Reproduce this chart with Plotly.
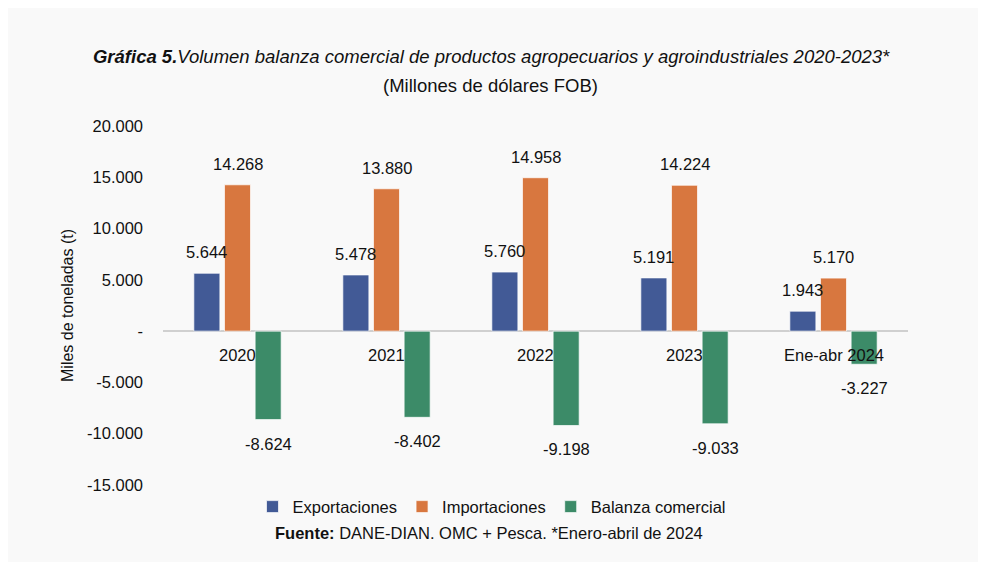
import plotly.graph_objects as go

categories = ["2020", "2021", "2022", "2023", "Ene-abr 2024"]
exportaciones = [5644, 5478, 5760, 5191, 1943]
importaciones = [14268, 13880, 14958, 14224, 5170]
balanza = [-8624, -8402, -9198, -9033, -3227]
series_names = ["Exportaciones", "Importaciones", "Balanza comercial"]
colors = ["#425a96", "#d8773f", "#3c8b68"]
ytick_vals = [20000, 15000, 10000, 5000, 0, -5000, -10000, -15000]
ytick_text = ["20.000", "15.000", "10.000", "5.000", "-", "-5.000", "-10.000", "-15.000"]

def fmt(v):
    return f"{v:,}".replace(",", ".")

FONT = "Liberation Sans, Arial, sans-serif"
NARROW = "Liberation Sans Narrow, Arial Narrow, Liberation Sans, sans-serif"

fig = go.Figure()
all_series = [exportaciones, importaciones, balanza]
for name, vals, col in zip(series_names, all_series, colors):
    fig.add_trace(go.Bar(
        x=categories, y=vals, name=name,
        marker=dict(color=col, line=dict(color="rgba(255,255,255,0.7)", width=1)),
    ))

slot = 30.7
annotations = []
for i, vals in enumerate(all_series):
    for ci, v in enumerate(vals):
        annotations.append(dict(
            x=ci, y=v, xref="x", yref="y", text=fmt(v), showarrow=False,
            xshift=(i - 1) * slot,
            yanchor="bottom" if v >= 0 else "top",
            yshift=10 if v >= 0 else -13,
            font=dict(family=FONT, size=16.5, color="#111111"),
        ))
for ci, c in enumerate(categories):
    annotations.append(dict(
        x=ci, y=0, xref="x", yref="y", text=c, showarrow=False,
        yanchor="middle", yshift=-24,
        font=dict(family=FONT, size=16.5, color="#111111"),
    ))
annotations.append(dict(
    x=0.439, y=1.114, xref="paper", yref="paper", showarrow=False,
    text="(Millones de dólares FOB)", yanchor="middle",
    font=dict(family=NARROW, size=18.5, color="#111111"),
))
annotations.append(dict(
    x=0.438, y=-0.134, xref="paper", yref="paper", showarrow=False,
    text="<b>Fuente:</b> DANE-DIAN. OMC + Pesca. *Enero-abril de 2024",
    font=dict(family=NARROW, size=16.5, color="#111111"), yanchor="middle",
))

fig.update_layout(
    width=986, height=562,
    paper_bgcolor="#f9f9f9", plot_bgcolor="#f9f9f9",
    margin=dict(l=155, r=86, t=118, b=85),
    separators=",.",
    barmode="group", bargap=0.383, bargroupgap=0.15,
    title=dict(
        text="<b><i>Gráfica 5.</i></b><i>Volumen balanza comercial de productos agropecuarios y agroindustriales 2020-2023*</i>",
        x=0.49, xanchor="center", y=0.9128, yanchor="middle",
        font=dict(family=NARROW, size=18.5, color="#111111"),
    ),
    xaxis=dict(type="category", range=[-0.5, len(categories) - 0.5],
               showticklabels=False, showgrid=False, showline=False, zeroline=False),
    yaxis=dict(
        range=[-15000, 20000], tickvals=ytick_vals, ticktext=ytick_text,
        showgrid=False, showline=False,
        zeroline=True, zerolinecolor="#d0d0d0", zerolinewidth=2,
        ticks="", ticklabelstandoff=19,
        tickfont=dict(family=FONT, size=16.5, color="#111111"),
        title=dict(text="Miles de toneladas (t)", standoff=9,
                   font=dict(family=FONT, size=16, color="#111111")),
    ),
    legend=dict(
        orientation="h", x=0.4416, xanchor="center", y=-0.061, yanchor="middle",
        font=dict(family=FONT, size=16.5, color="#111111"),
        itemwidth=30, traceorder="normal", bgcolor="rgba(0,0,0,0)",
    ),
    annotations=annotations,
)
fig.write_html("out.html")
